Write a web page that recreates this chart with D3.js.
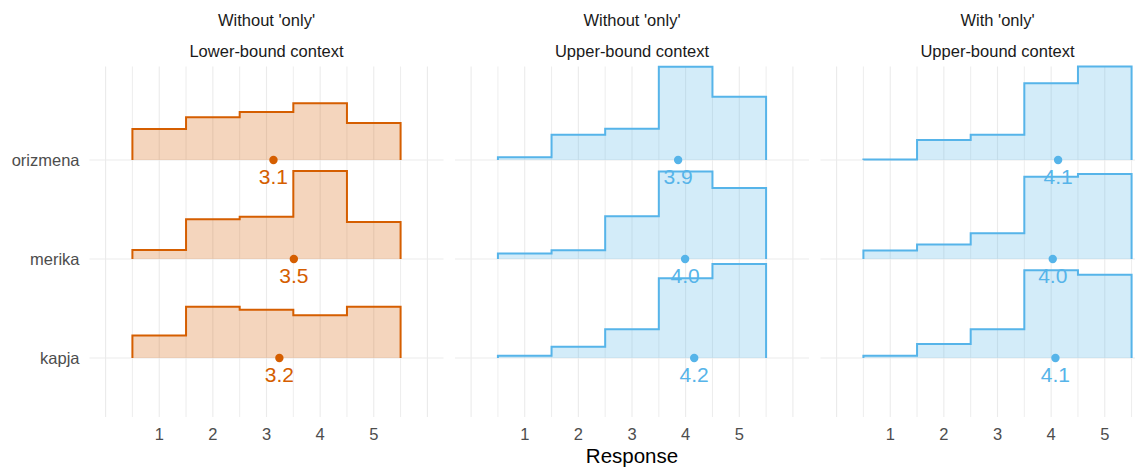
<!DOCTYPE html>
<html>
<head>
<meta charset="utf-8">
<script src="https://cdn.jsdelivr.net/npm/d3@7"></script>
<style>
  html, body { margin: 0; padding: 0; background: #ffffff; }
  svg { display: block; }
  text { font-family: "Liberation Sans", Arial, Helvetica, sans-serif; }
</style>
</head>
<body>
<svg id="chart" width="1135" height="472"></svg>
<script>
// Response scale and the three rated words (bottom to top)
const responses = [1, 2, 3, 4, 5];
const xTicks = [1, 2, 3, 4, 5];
const items = ["kapja", "merika", "orizmena"];

// Facet strip labels
const onlyLabels = ["Without 'only'", "Without 'only'", "With 'only'"];
const contextLabels = ["Lower-bound context", "Upper-bound context", "Upper-bound context"];
const panelColors = ["#D55E00", "#56B4E9", "#56B4E9"];

// Percent of responses per rating (1..5), rows ordered as items
const lowerPlainPct = [
  [10.4, 23.7, 22.3, 19.8, 23.7],
  [4.2, 18.4, 19.6, 40.7, 17.1],
  [14.4, 19.8, 22.3, 26.3, 17.2]
];
const upperPlainPct = [
  [1.1, 5.2, 13.3, 36.9, 43.5],
  [2.6, 4.1, 19.8, 40.5, 32.9],
  [1.3, 11.7, 14.5, 43.2, 29.3]
];
const upperOnlyPct = [
  [1.1, 6.5, 13.3, 40.6, 38.5],
  [3.9, 6.7, 11.9, 38.1, 39.4],
  [0.2, 9.3, 11.7, 35.5, 43.3]
];

// Mean rating per item, same row order
const lowerPlainMean = [3.24, 3.51, 3.13];
const upperPlainMean = [4.16, 3.99, 3.86];
const upperOnlyMean = [4.08, 4.03, 4.13];

const panelPct = [lowerPlainPct, upperPlainPct, upperOnlyPct];
const panelMean = [lowerPlainMean, upperPlainMean, upperOnlyMean];

// Layout
const W = 1135, H = 472;
const panelLeft = 89.5, panelWidth = 354, panelStride = 365.5;
const panelTop = 66.5, panelBottom = 417;
const ridgeScale = 0.02182; // category units per percentage point

const svg = d3.select("#chart");
svg.append("rect").attr("width", W).attr("height", H).attr("fill", "#ffffff");

const x = d3.scaleLinear().domain([-0.3, 6.3]).range([0, panelWidth]);
const y = d3.scaleLinear().domain([0.404, 3.945]).range([panelBottom, panelTop]);

const gridMajor = d3.range(0, 6.01, 1);
const gridMinor = d3.range(0.5, 6, 1);

const fmt = d3.format(".1f");

// Step outline: rises at the left bin edge, steps at each bin boundary, drops at the right edge
const stepLine = d3.line()
  .x(d => x(d.x))
  .y(d => d.y)
  .curve(d3.curveStepAfter);

panelPct.forEach((rows, p) => {
  const g = svg.append("g")
    .attr("transform", `translate(${panelLeft + p * panelStride},0)`);

  g.append("clipPath").attr("id", "clip" + p)
    .append("rect")
    .attr("x", 0).attr("y", panelTop - 2)
    .attr("width", panelWidth).attr("height", panelBottom - panelTop + 2);

  // grid
  const grid = g.append("g");
  grid.selectAll("line.minor").data(gridMinor).join("line")
    .attr("x1", d => x(d)).attr("x2", d => x(d))
    .attr("y1", panelTop).attr("y2", panelBottom)
    .attr("stroke", "#ebebeb").attr("stroke-width", 0.9);
  grid.selectAll("line.major").data(gridMajor).join("line")
    .attr("x1", d => x(d)).attr("x2", d => x(d))
    .attr("y1", panelTop).attr("y2", panelBottom)
    .attr("stroke", "#ebebeb").attr("stroke-width", 1.1);
  grid.selectAll("line.h").data(items).join("line")
    .attr("x1", 0).attr("x2", panelWidth)
    .attr("y1", (d, i) => y(i + 1)).attr("y2", (d, i) => y(i + 1))
    .attr("stroke", "#ebebeb").attr("stroke-width", 1.1);

  const color = panelColors[p];
  const ridges = g.append("g").attr("clip-path", `url(#clip${p})`);

  // draw top row first so lower rows overlap it
  const order = d3.range(items.length).reverse();
  order.forEach(i => {
    const base = y(i + 1);
    const vals = rows[i];
    const pts = [{ x: responses[0] - 0.5, y: base }]
      .concat(responses.map((r, j) => ({ x: r - 0.5, y: y(i + 1 + vals[j] * ridgeScale) })))
      .concat([{ x: responses[responses.length - 1] + 0.5, y: base }]);
    ridges.append("path")
      .attr("d", stepLine(pts) + "Z")
      .attr("fill", color)
      .attr("fill-opacity", 0.26)
      .attr("stroke", "none");
    ridges.append("path")
      .attr("d", stepLine(pts))
      .attr("fill", "none")
      .attr("stroke", color)
      .attr("stroke-width", 2)
      .attr("stroke-linejoin", "miter");
  });

  // mean points and labels
  const means = panelMean[p];
  g.selectAll("circle.mean").data(means).join("circle")
    .attr("cx", d => x(d))
    .attr("cy", (d, i) => y(i + 1))
    .attr("r", 4.2)
    .attr("fill", color);
  g.selectAll("text.mean").data(means).join("text")
    .attr("x", d => x(d))
    .attr("y", (d, i) => y(i + 1) + 24)
    .attr("text-anchor", "middle")
    .attr("font-size", 21)
    .attr("fill", color)
    .text(d => fmt(d));

  // x tick labels
  g.selectAll("text.tick").data(xTicks).join("text")
    .attr("x", d => x(d))
    .attr("y", 440)
    .attr("text-anchor", "middle")
    .attr("font-size", 16.5)
    .attr("fill", "#4d4d4d")
    .text(d => d);

  // strip labels
  const cx = panelWidth / 2;
  g.append("text").attr("x", cx).attr("y", 25.5)
    .attr("text-anchor", "middle").attr("font-size", 16.5).attr("fill", "#1a1a1a")
    .text(onlyLabels[p]);
  g.append("text").attr("x", cx).attr("y", 57)
    .attr("text-anchor", "middle").attr("font-size", 16.5).attr("fill", "#1a1a1a")
    .text(contextLabels[p]);
});

// y axis labels
svg.append("g").selectAll("text").data(items).join("text")
  .attr("x", panelLeft - 10)
  .attr("y", (d, i) => y(i + 1) + 6)
  .attr("text-anchor", "end")
  .attr("font-size", 16.5)
  .attr("fill", "#4d4d4d")
  .text(d => d);

// x axis title
svg.append("text")
  .attr("x", panelLeft + panelStride + panelWidth / 2)
  .attr("y", 463)
  .attr("text-anchor", "middle")
  .attr("font-size", 20.5)
  .attr("fill", "#000000")
  .text("Response");
</script>
</body>
</html>
